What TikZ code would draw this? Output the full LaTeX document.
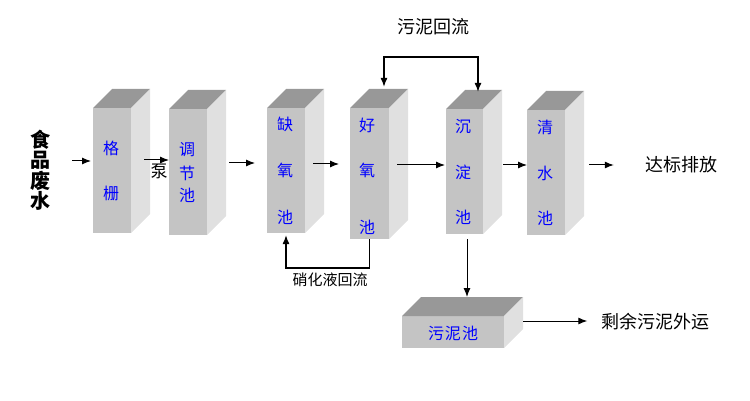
\documentclass[tikz,border=0pt]{standalone}
\usepackage{fontspec}
\newfontfamily\cjk{Noto Sans CJK SC}
\usetikzlibrary{arrows.meta}
\definecolor{frontc}{RGB}{196,196,196}
\definecolor{topc}{RGB}{152,152,152}
\definecolor{sidec}{RGB}{224,224,224}
\definecolor{lblue}{RGB}{0,0,255}
\newcommand\mybox[1]{%
  \fill[topc] (#1.north west) -- (#1.north east) -- ++(19,-19) -- ([shift={(19,-19)}]#1.north west) -- cycle;
  \fill[sidec] (#1.north east) -- ++(19,-19) -- ([shift={(19,-19)}]#1.south east) -- (#1.south east) -- cycle;
}
\begin{document}
\begin{tikzpicture}[x=1pt,y=-1pt,
  front/.style={fill=frontc, draw=none, minimum width=38pt, inner sep=0pt, outer sep=0pt},
  lbl/.style={text=lblue, font=\cjk\fontsize{16}{16}\selectfont, inner sep=0pt},
  txt/.style={text=black, font=\cjk\fontsize{18}{18}\selectfont, inner sep=0pt},
  arr/.style={draw=black, line width=1pt, -{Latex[length=9pt,width=7pt]}},
  arrb/.style={draw=black, line width=1.5pt, -{Latex[length=9pt,width=7pt]}},
]
\useasboundingbox (0,0) rectangle (750,401);
% front faces
\node[front, minimum height=125pt] (b1) at (112,170.5) {};
\node[front, minimum height=126pt] (b2) at (188,172) {};
\node[front, minimum height=125pt] (b3) at (286,170.5) {};
\node[front, minimum width=39pt, minimum height=131pt] (b4) at (369.5,173.5) {};
\node[front, minimum width=37pt, minimum height=125pt] (b5) at (464.5,171.5) {};
\node[front, minimum height=125pt] (b6) at (546,172.5) {};
\node[front, minimum width=102pt, minimum height=32pt] (sl) at (453,332) {};
\mybox{b1}\mybox{b2}\mybox{b3}\mybox{b4}\mybox{b5}\mybox{b6}\mybox{sl}
% box labels
\node[lbl] (b1a) at (111,148) {格};
\node[lbl] (b1b) at (111,193) {栅};
\node[lbl] (b2a) at (187,150) {调};
\node[lbl] (b2b) at (187,173) {节};
\node[lbl] (b2c) at (187,195) {池};
\node[lbl] (b3a) at (285,124) {缺};
\node[lbl] (b3b) at (285,170) {氧};
\node[lbl] (b3c) at (285,217) {池};
\node[lbl] (b4a) at (367,125) {好};
\node[lbl] (b4b) at (367,170) {氧};
\node[lbl] (b4c) at (367,227) {池};
\node[lbl] (b5a) at (463,127) {沉};
\node[lbl] (b5b) at (463,172.5) {淀};
\node[lbl] (b5c) at (463,217) {池};
\node[lbl] (b6a) at (545,127) {清};
\node[lbl] (b6b) at (545,173) {水};
\node[lbl] (b6c) at (545,218) {池};
\node[lbl] (sla) at (453,333) {污\hspace{1pt}泥\hspace{1pt}池};
% outside texts
\node[inner sep=0pt, align=center, font=\cjk\bfseries\fontsize{20}{20.5}\selectfont] (in) at (40,170) {食\\品\\废\\水};
\node[txt, font=\cjk\fontsize{17}{17}\selectfont] (pump) at (159,171) {泵};
\node[txt] (out) at (681,165) {达标排放};
\node[txt] (out2) at (655.5,322) {剩余污泥外运};
\node[txt] (rsl) at (433,27) {污泥回流};
\node[txt, font=\cjk\fontsize{15}{15}\selectfont] (rno) at (330,280) {硝化液回流};
% connectors
\draw[arr, shorten <=22pt, shorten >=2pt] (in.east |- 0,161) -- (b1.west |- 0,161);
\draw[arr, shorten <=13pt] (b1.east |- 0,160) -- (b2.west |- 0,160);
\draw[arr, shorten <=22pt, shorten >=12pt] (b2.east |- 0,163) -- (b3.west |- 0,163);
\draw[arr, shorten <=8pt, shorten >=11pt] (b3.east |- 0,164) -- (b4.west |- 0,164);
\draw[arr, shorten <=8pt, shorten >=1pt] (b4.east |- 0,165) -- (b5.west |- 0,165);
\draw[arr, shorten <=20pt] (b5.east |- 0,165) -- (b6.west |- 0,165);
\draw[arr, shorten <=24pt, shorten >=31pt] (b6.east |- 0,165) -- (out.west |- 0,165);
\draw[arr, shorten <=19pt, shorten >=14pt] (sl.east |- 0,321) -- (out2.west |- 0,321);
\coordinate (s5) at (467,239);
\coordinate (s6) at (467,297);
\draw[arr] (s5) -- (s6);
% nitrification return
\draw[arrb] (b4.south) -- (b4.south |- 0,268) -| ([yshift=-2pt]b3.south);
% sludge return
\coordinate (r1) at (384,87);
\coordinate (r2) at (478,92);
\draw[arrb, {Latex[length=9pt,width=7pt]}-{Latex[length=9pt,width=7pt]}] (r1) -- (r1 |- 0,57) -- (r2 |- 0,57) -- (r2);
\end{tikzpicture}
\end{document}
